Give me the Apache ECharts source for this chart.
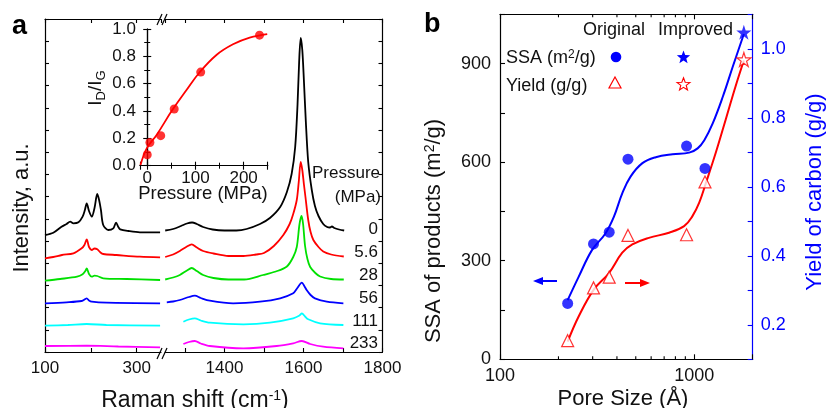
<!DOCTYPE html>
<html><head><meta charset="utf-8">
<script src="https://cdn.jsdelivr.net/npm/echarts@6/dist/echarts.min.js"></script>
<style>html,body{margin:0;padding:0;background:#fff}#c{width:826px;height:408px}</style>
</head><body><div id="c"></div>
<script>
const FONT = 'Liberation Sans, Arial, sans-serif';
const TXT = '#111';

// ---------- Panel a: Raman spectra (offset intensity, a.u.) ----------
const pressureLabels = ['0', '5.6', '28', '56', '111', '233'];
const spectraColors = ['#000000', '#ff0000', '#00e000', '#0000ff', '#00ffff', '#ff00ff'];

const spec0Low = [[100,117],[118,119.3],[136,125.3],[147,128],[155,130.3],[162,128.7],[173,129.7],[182,135.3],[187,142],[191,148.7],[196,141],[202,135.3],[208,144],[214,158],[218,152],[222,142],[227,127],[238,122],[249,123.7],[255,129.3],[260,125],[264,122.7],[282,121],[307,119.7],[351,119.7]];
const spec1Low = [[100,93.7],[118,95],[137,97],[162,98.7],[180,103.7],[186,107],[191,112.7],[196,105],[202,102],[208,103.5],[214,102.7],[221,99.5],[227,98],[256,97],[307,95.3],[351,94.7]];
const spec2Low = [[100,71.3],[133,73],[170,75.3],[182,77.7],[188,81],[191,83.7],[196,78],[202,75.3],[208,76.3],[214,76],[227,73.7],[278,73],[351,72]];
const spec3Low = [[100,48.7],[147,49.7],[180,51],[188,53],[191,53.7],[196,51.5],[202,50.3],[234,49.3],[351,48.7]];
const spec4Low = [[100,26.3],[150,27],[191,28],[234,27],[351,26.3]];
const spec5Low = [[100,6],[191,6.3],[260,5.5],[351,4.7]];

const spec0High = [[1250,121.5],[1270,123],[1290,126],[1305,128.5],[1318,129.5],[1330,128],[1346,125],[1370,122.5],[1400,121.5],[1430,121.5],[1456,123],[1490,128],[1515,134],[1541,145],[1558,160],[1570,178],[1579,205],[1585,248],[1589,290],[1593,314],[1597,302],[1601,272],[1606,230],[1612,190],[1621,162],[1629,146],[1638,136],[1650,128],[1660,125],[1667,124.5],[1672,125.5],[1678,124],[1690,122.5],[1703,121.5]];
const spec1High = [[1250,95],[1270,97.5],[1287,101],[1305,105.5],[1317,107.7],[1330,104.5],[1346,101],[1372,98.5],[1410,96],[1448,96],[1480,97.5],[1500,99],[1525,106],[1549,117],[1565,128],[1574,138],[1583,152],[1588,170],[1593,190],[1597,182],[1601,168],[1605,155],[1612,132],[1618,120],[1625,112],[1638,105],[1650,100.5],[1670,97.5],[1702,95.5]];
const spec2High = [[1250,72.5],[1270,74.5],[1287,77],[1305,81.5],[1317,84],[1330,81],[1346,77],[1372,74],[1410,72.5],[1450,72.5],[1498,77],[1530,80.5],[1558,85.5],[1574,95],[1583,105],[1590,128],[1595,136],[1599,128],[1604,106],[1610,93],[1617,85],[1630,79],[1642,75.5],[1670,73],[1702,72.5]];
const spec3High = [[1254,49.7],[1270,50.5],[1287,52],[1310,55],[1325,56.3],[1340,54],[1363,51.3],[1422,48.7],[1490,50.3],[1541,53.7],[1574,58.7],[1584,63.7],[1596,69.3],[1602,66],[1608,62],[1618,57],[1629,53.7],[1659,50.3],[1701,48.7]];
const spec4High = [[1296,30.3],[1310,32.5],[1325,33.7],[1340,31.5],[1363,29.3],[1448,27.7],[1515,29.3],[1574,33.7],[1590,36.5],[1596,38.7],[1604,35.5],[1612,32.7],[1642,28.7],[1701,27]];
const spec5High = [[1296,8],[1310,10],[1325,11],[1340,8.5],[1363,6],[1448,3.7],[1532,6],[1574,8.7],[1596,11],[1617,8],[1650,5.3],[1701,3.7]];

const lowTickLabels = [100, 300];
const highTickLabels = [1400, 1600, 1800];

// ---------- Inset: ID/IG vs pressure ----------
const insetPressure = [0, 5.6, 28, 56, 111, 233];
const insetRatio = [0.08, 0.17, 0.22, 0.415, 0.685, 0.955];
const insetFitP = [-14, -1, 19.5, 52, 81.5, 108, 143.6, 178, 212.6, 249];
const insetFitR = [0.005, 0.127, 0.225, 0.407, 0.554, 0.68, 0.81, 0.888, 0.937, 0.963];

// ---------- Panel b ----------
const poreSize = [223, 303, 365, 456, 913, 1136];
const ssaOrig = [170, 351, 387, 609, 649, 581];
const yieldOrig = [0.154, 0.307, 0.338, 0.459, 0.461, 0.614];
const improvedSize = [1801];
const improvedSSA = [995];
const improvedYield = [0.969];
const ssaFitSize = [223, 254, 298, 349, 386, 426, 470, 541, 634, 773, 942, 1041, 1127, 1245, 1403, 1580, 1801];
const ssaFitVal = [180, 251, 333, 383, 434, 505, 556, 597, 615, 624, 629, 642, 667, 718, 799, 891, 990];
const yieldFitSize = [223, 254, 304, 364, 426, 480, 584, 742, 887, 979, 1061, 1150, 1293, 1454, 1636, 1801];
const yieldFitVal = [0.151, 0.224, 0.302, 0.350, 0.409, 0.433, 0.452, 0.467, 0.486, 0.515, 0.554, 0.612, 0.700, 0.796, 0.893, 0.966];
const minorLogTicks = [200, 300, 400, 500, 600, 700, 800, 900];

const STAR = 'M50 2 L61.8 37.6 L99 37.6 L69 59.6 L80.4 95 L50 73 L19.6 95 L31 59.6 L1 37.6 L38.2 37.6 Z';
function starPoints(cx, cy, R) {
  const pts = [];
  for (let k = 0; k < 10; k++) {
    const a = -Math.PI / 2 + k * Math.PI / 5;
    const rr = k % 2 === 0 ? R : R * 0.42;
    pts.push([cx + rr * Math.cos(a), cy + rr * Math.sin(a)]);
  }
  return pts;
}

const zip = (a, b) => a.map((v, i) => [v, b[i]]);
const lowSpectra = [spec0Low, spec1Low, spec2Low, spec3Low, spec4Low, spec5Low];
const highSpectra = [spec0High, spec1High, spec2High, spec3High, spec4High, spec5High];

const axisLine = (c) => ({ show: true, lineStyle: { color: c || '#000', width: 1.2 } });
const tickIn = (c, len) => ({ show: true, inside: true, length: len || 4, lineStyle: { color: c || '#000', width: 1.1 } });
const labelStyle = (size, c) => ({ fontFamily: FONT, fontSize: size, color: c || TXT });

const option = {
  animation: false,
  backgroundColor: '#fff',
  grid: [
    { left: 45, top: 19, width: 116, height: 333 },
    { left: 165.2, top: 19, width: 217.3, height: 333 },
    { left: 140, top: 29, width: 127.7, height: 136.7 },
    { left: 500, top: 14.3, width: 252.7, height: 345 }
  ],
  xAxis: [
    { gridIndex: 0, type: 'value', min: 100, max: 353, interval: 100, position: 'bottom',
      axisLine: axisLine(), axisTick: tickIn(), splitLine: { show: false },
      axisLabel: Object.assign(labelStyle(17), { margin: 8, showMaxLabel: false, formatter: v => lowTickLabels.includes(v) ? String(v) : '' }) },
    { gridIndex: 0, type: 'value', min: 100, max: 353, interval: 100, position: 'top',
      axisLine: axisLine(), axisTick: tickIn(), splitLine: { show: false }, axisLabel: { show: false } },
    { gridIndex: 1, type: 'value', min: 1250, max: 1800, splitNumber: 5, position: 'bottom',
      axisLine: axisLine(), axisTick: tickIn(), splitLine: { show: false },
      axisLabel: Object.assign(labelStyle(17), { margin: 8, showMinLabel: false, formatter: v => highTickLabels.includes(v) ? String(v) : '' }) },
    { gridIndex: 1, type: 'value', min: 1250, max: 1800, splitNumber: 5, position: 'top',
      axisLine: axisLine(), axisTick: tickIn(), splitLine: { show: false }, axisLabel: { show: false } },
    { gridIndex: 2, type: 'value', min: -15, max: 250, splitNumber: 3, position: 'bottom',
      axisLine: axisLine(), axisTick: tickIn(), minorTick: { show: true, splitNumber: 2, length: 3, lineStyle: { color: '#000' } },
      splitLine: { show: false },
      axisLabel: Object.assign(labelStyle(17), { margin: 4, showMinLabel: false, showMaxLabel: false, formatter: v => (v >= 0 && v % 100 === 0) ? String(v) : '' }) },
    { gridIndex: 2, type: 'value', min: -15, max: 250, splitNumber: 3, position: 'top',
      axisLine: axisLine(), axisTick: tickIn(), minorTick: { show: true, splitNumber: 2, length: 3, lineStyle: { color: '#000' } },
      splitLine: { show: false }, axisLabel: { show: false } },
    { gridIndex: 3, type: 'log', logBase: 10, min: 100, max: 2000, position: 'bottom',
      axisLine: axisLine(), axisTick: tickIn('#000', 5), splitLine: { show: false },
      axisLabel: Object.assign(labelStyle(18), { margin: 8, formatter: v => (Math.abs(v - 100) < 1e-6 || Math.abs(v - 1000) < 1e-6) ? String(Math.round(v)) : '' }) },
    { gridIndex: 3, type: 'log', logBase: 10, min: 100, max: 2000, position: 'top',
      axisLine: axisLine(), axisTick: tickIn('#000', 5), splitLine: { show: false }, axisLabel: { show: false } }
  ],
  yAxis: [
    { gridIndex: 0, type: 'value', min: 0, max: 333, interval: 22.2, position: 'left',
      axisLine: axisLine(), axisTick: tickIn(), splitLine: { show: false }, axisLabel: { show: false } },
    { gridIndex: 1, type: 'value', min: 0, max: 333, interval: 22.2, position: 'right',
      axisLine: axisLine(), axisTick: tickIn(), splitLine: { show: false }, axisLabel: { show: false } },
    { gridIndex: 2, type: 'value', min: 0, max: 1, interval: 0.2, position: 'left',
      axisLine: axisLine(), axisTick: tickIn(), minorTick: { show: true, splitNumber: 2, length: 3, lineStyle: { color: '#000' } },
      splitLine: { show: false },
      axisLabel: Object.assign(labelStyle(17), { margin: 4, formatter: v => v.toFixed(1) }) },
    { gridIndex: 2, type: 'value', min: 0, max: 1, interval: 0.2, position: 'right',
      axisLine: axisLine(), axisTick: tickIn(), minorTick: { show: true, splitNumber: 2, length: 3, lineStyle: { color: '#000' } },
      splitLine: { show: false }, axisLabel: { show: false } },
    { gridIndex: 3, type: 'value', min: 0, max: 1050, interval: 150, position: 'left',
      axisLine: axisLine(), axisTick: tickIn('#000', 5), splitLine: { show: false },
      axisLabel: Object.assign(labelStyle(18), { margin: 9, formatter: v => (v % 300 === 0) ? String(v) : '' }) },
    { gridIndex: 3, type: 'value', min: 0.1, max: 1.1, interval: 0.1, position: 'right',
      axisLine: axisLine('#0000ff'), axisTick: tickIn('#0000ff', 5), splitLine: { show: false },
      axisLabel: Object.assign(labelStyle(18, '#0000ff'), { margin: 8, formatter: v => { const t = Math.round(v * 10); return (t % 2 === 0 && t >= 2 && t <= 10) ? v.toFixed(1) : ''; } }) }
  ],
  series: [],
  graphic: []
};

// spectra
lowSpectra.forEach((d, i) => option.series.push({
  type: 'line', xAxisIndex: 0, yAxisIndex: 0, data: d, showSymbol: false, smooth: 0.3,
  lineStyle: { color: spectraColors[i], width: 1.8 }, itemStyle: { color: spectraColors[i] }, silent: true
}));
highSpectra.forEach((d, i) => option.series.push({
  type: 'line', xAxisIndex: 2, yAxisIndex: 1, data: d, showSymbol: false, smooth: 0.3,
  lineStyle: { color: spectraColors[i], width: 1.8 }, itemStyle: { color: spectraColors[i] }, silent: true
}));
// inset
option.series.push({ type: 'line', xAxisIndex: 4, yAxisIndex: 2, data: zip(insetFitP, insetFitR), showSymbol: false, smooth: 0.4,
  lineStyle: { color: '#ff0000', width: 1.8 }, silent: true });
option.series.push({ type: 'scatter', xAxisIndex: 4, yAxisIndex: 2, data: zip(insetPressure, insetRatio), symbol: 'circle', symbolSize: 9,
  itemStyle: { color: '#ff0000' }, z: 5 });
// panel b
option.series.push({ type: 'line', xAxisIndex: 6, yAxisIndex: 4, data: zip(ssaFitSize, ssaFitVal), showSymbol: false, smooth: 0.4,
  lineStyle: { color: '#0000ff', width: 2 } });
option.series.push({ type: 'line', xAxisIndex: 6, yAxisIndex: 5, data: zip(yieldFitSize, yieldFitVal), showSymbol: false, smooth: 0.4,
  lineStyle: { color: '#ff0000', width: 2 } });
option.series.push({ type: 'scatter', xAxisIndex: 6, yAxisIndex: 4, data: zip(poreSize, ssaOrig), symbol: 'circle', symbolSize: 11,
  itemStyle: { color: '#0000ff' }, z: 5 });
option.series.push({ type: 'scatter', xAxisIndex: 6, yAxisIndex: 5, data: zip(poreSize, yieldOrig), symbol: 'triangle', symbolSize: 12,
  itemStyle: { color: '#ffffff', borderColor: '#ff0000', borderWidth: 1.2 }, z: 5 });
option.series.push({ type: 'scatter', xAxisIndex: 6, yAxisIndex: 4, data: zip(improvedSize, improvedSSA), symbol: 'path://' + STAR, symbolSize: 15,
  itemStyle: { color: '#0000ff' }, z: 6 });
option.series.push({ type: 'scatter', xAxisIndex: 6, yAxisIndex: 5, data: zip(improvedSize, improvedYield), symbol: 'path://' + STAR, symbolSize: 14,
  itemStyle: { color: '#ffffff', borderColor: '#ff0000', borderWidth: 1.2 }, z: 6 });
// log minor ticks (bottom and top)
option.series.push({ type: 'custom', xAxisIndex: 6, yAxisIndex: 4, silent: true, clip: false,
  data: minorLogTicks.map(v => [v, 0]), encode: { x: 0, y: 1 },
  renderItem: (params, api) => {
    const v = api.value(0);
    const b = api.coord([v, 0]);
    const t = api.coord([v, 1050]);
    return { type: 'group', children: [
      { type: 'line', shape: { x1: b[0], y1: b[1], x2: b[0], y2: b[1] - 3 }, style: { stroke: '#000', lineWidth: 1.1 } },
      { type: 'line', shape: { x1: t[0], y1: t[1], x2: t[0], y2: t[1] + 3 }, style: { stroke: '#000', lineWidth: 1.1 } }
    ] };
  } });

// ---------- graphics: titles, labels, annotations ----------
const G = option.graphic;
const txt = (x, y, text, size, opts) => Object.assign({ type: 'text', x: x, y: y, z: 10,
  style: Object.assign({ text: text, fontFamily: FONT, fontSize: size, fill: TXT, align: 'left', verticalAlign: 'middle' }, (opts && opts.style) || {}) },
  opts && opts.rotation ? { rotation: opts.rotation } : {});

// panel letters
G.push(txt(12, 27, 'a', 27, { style: { fontWeight: 'bold', fill: '#000' } }));
G.push(txt(424, 25, 'b', 27, { style: { fontWeight: 'bold', fill: '#000' } }));

// panel a axis titles
G.push({ type: 'text', x: 195, y: 401, z: 10, style: { text: '{n|Raman shift (cm}{s|-1}{n|)}', align: 'center', verticalAlign: 'middle',
  rich: { n: { fontFamily: FONT, fontSize: 23, fill: TXT }, s: { fontFamily: FONT, fontSize: 14, fill: TXT, verticalAlign: 'top' } } } });
G.push(txt(22, 208, 'Intensity, a.u.', 22, { rotation: Math.PI / 2, style: { align: 'center' } }));

// pressure labels
const pressureLabelLayout = [229, 252, 275, 298, 321, 343];
G.push(txt(380, 173, 'Pressure', 17, { style: { align: 'right' } }));
G.push(txt(381, 197, '(MPa)', 17, { style: { align: 'right' } }));
pressureLabels.forEach((p, i) => G.push(txt(378, pressureLabelLayout[i], p, 17, { style: { align: 'right' } })));

// axis break marks
[[157, 25, 162, 14], [162, 25, 167, 14], [157, 359, 162, 348], [162, 359, 167, 348]].forEach(s =>
  G.push({ type: 'line', z: 10, shape: { x1: s[0], y1: s[1], x2: s[2], y2: s[3] }, style: { stroke: '#000', lineWidth: 1.2 } }));

// inset titles
G.push({ type: 'text', x: 96, y: 88, rotation: Math.PI / 2, z: 10, style: { text: '{n|I}{s|D}{n|/I}{s|G}', align: 'center', verticalAlign: 'middle',
  rich: { n: { fontFamily: FONT, fontSize: 19, fill: TXT, lineHeight: 24 }, s: { fontFamily: FONT, fontSize: 13, fill: TXT, verticalAlign: 'bottom' } } } });
G.push(txt(203, 194, 'Pressure (MPa)', 18.5, { style: { align: 'center' } }));

// panel b titles
G.push({ type: 'text', x: 434, y: 231, rotation: Math.PI / 2, z: 10, style: { text: '{n|SSA of products (m}{s|2}{n|/g)}', align: 'center', verticalAlign: 'middle',
  rich: { n: { fontFamily: FONT, fontSize: 22, fill: TXT }, s: { fontFamily: FONT, fontSize: 14, fill: TXT, verticalAlign: 'top' } } } });
G.push(txt(815, 192, 'Yield of carbon (g/g)', 22, { rotation: Math.PI / 2, style: { align: 'center', fill: '#0000ff' } }));
G.push(txt(623, 399, 'Pore Size (Å)', 22, { style: { align: 'center' } }));

// panel b legend
G.push(txt(583, 30, 'Original', 18));
G.push(txt(658, 30, 'Improved', 18));
G.push({ type: 'text', x: 506, y: 58, z: 10, style: { text: '{n|SSA (m}{s|2}{n|/g)}', align: 'left', verticalAlign: 'middle',
  rich: { n: { fontFamily: FONT, fontSize: 18, fill: TXT }, s: { fontFamily: FONT, fontSize: 12, fill: TXT, verticalAlign: 'top' } } } });
G.push(txt(506, 86, 'Yield (g/g)', 18));
G.push({ type: 'circle', z: 10, shape: { cx: 616, cy: 57, r: 5.3 }, style: { fill: '#0000ff' } });
G.push({ type: 'polygon', z: 10, shape: { points: [[615, 77], [621, 88], [609, 88]] }, style: { fill: '#fff', stroke: '#ff0000', lineWidth: 1.2 } });
G.push({ type: 'polygon', z: 10, shape: { points: starPoints(683.5, 57.5, 7) }, style: { fill: '#0000ff' } });
G.push({ type: 'polygon', z: 10, shape: { points: starPoints(683.5, 84.5, 6.8) }, style: { fill: '#fff', stroke: '#ff0000', lineWidth: 1.1 } });

// arrows
G.push({ type: 'line', z: 10, shape: { x1: 541, y1: 281, x2: 557, y2: 281 }, style: { stroke: '#0000ff', lineWidth: 2 } });
G.push({ type: 'polygon', z: 10, shape: { points: [[533, 281], [543, 277], [543, 285]] }, style: { fill: '#0000ff' } });
G.push({ type: 'line', z: 10, shape: { x1: 625, y1: 283, x2: 641, y2: 283 }, style: { stroke: '#ff0000', lineWidth: 2 } });
G.push({ type: 'polygon', z: 10, shape: { points: [[650, 283], [640, 279], [640, 287]] }, style: { fill: '#ff0000' } });

const chart = echarts.init(document.getElementById('c'), null, { renderer: 'canvas' });
chart.setOption(option);
</script>
</body></html>
